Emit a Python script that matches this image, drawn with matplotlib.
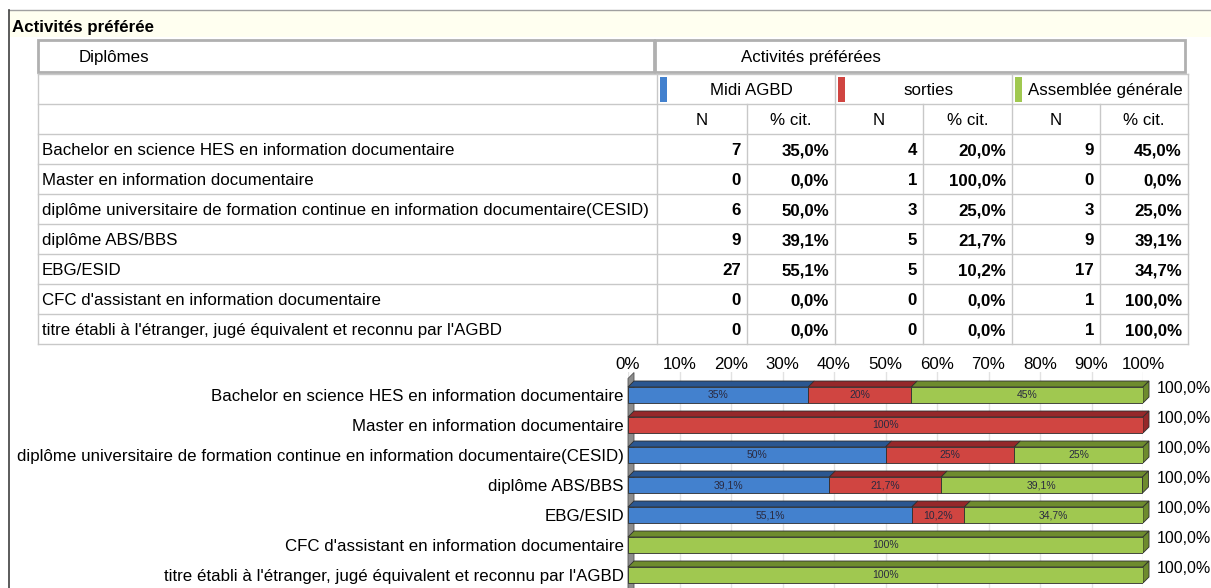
import matplotlib
matplotlib.use("Agg")
import matplotlib.pyplot as plt
from matplotlib.patches import Rectangle, Polygon
import numpy as np

plt.rcParams['font.family'] = ['Liberation Sans', 'DejaVu Sans']

# ---------------- data ----------------
title = "Activités préférée"
row_header = "Diplômes"
col_header = "Activités préférées"
series = ["Midi AGBD", "sorties", "Assemblée générale"]
sub_headers = ["N", "% cit."]
diplomes = [
    "Bachelor en science HES en information documentaire",
    "Master en information documentaire",
    "diplôme universitaire de formation continue en information documentaire(CESID)",
    "diplôme ABS/BBS",
    "EBG/ESID",
    "CFC d'assistant en information documentaire",
    "titre établi à l'étranger, jugé équivalent et reconnu par l'AGBD",
]
n_midi = [7, 0, 6, 9, 27, 0, 0]
n_sorties = [4, 1, 3, 5, 5, 0, 0]
n_ag = [9, 0, 3, 9, 17, 1, 1]
pct_midi = [35.0, 0.0, 50.0, 39.1, 55.1, 0.0, 0.0]
pct_sorties = [20.0, 100.0, 25.0, 21.7, 10.2, 0.0, 0.0]
pct_ag = [45.0, 0.0, 25.0, 39.1, 34.7, 100.0, 100.0]
totals = [100.0] * 7
x_ticks = [0, 10, 20, 30, 40, 50, 60, 70, 80, 90, 100]

front_colors = ["#4381CE", "#D04541", "#A0C850"]
top_colors = ["#2A5690", "#95282A", "#6E8B2E"]

W, H = 1211, 588
fig = plt.figure(figsize=(W / 100, H / 100), dpi=100)
fig.patch.set_facecolor("white")

# ---------------- page / table overlay (pixel coords) ----------------
bg = fig.add_axes([0, 0, 1, 1])
bg.set_xlim(0, W)
bg.set_ylim(H, 0)
bg.axis("off")

FS = 12.2
# title band
bg.add_patch(Rectangle((9, 10), W - 9, 27, facecolor="#FFFFF0", edgecolor="none", zorder=0))
bg.plot([9, W], [10, 10], color="#A0A0A0", lw=1)
bg.plot([9, 9], [10, H], color="#404040", lw=1.2)
bg.text(12, 26, title, fontsize=FS, fontweight="bold", va="center_baseline", ha="left")

# header row 1
bg.add_patch(Rectangle((38, 40), 616, 32, facecolor="white", edgecolor="#B0B0B0", lw=2))
bg.add_patch(Rectangle((655, 40), 530, 32, facecolor="white", edgecolor="#B0B0B0", lw=2))
bg.text(79, 56, row_header, fontsize=FS, va="center_baseline", ha="left")
bg.text(811, 56, col_header, fontsize=FS, va="center_baseline", ha="center")

cols = [38, 657, 747, 835, 923, 1012, 1100, 1188]
row_tops = [74, 104, 134] + [134 + 30 * (i + 1) for i in range(len(diplomes))]
grid_c = "#C8C8C8"
for y in row_tops:
    bg.plot([cols[0], cols[-1]], [y, y], color=grid_c, lw=1)
bg.plot([cols[0], cols[0]], [74, row_tops[-1]], color=grid_c, lw=1)
bg.plot([cols[-1], cols[-1]], [74, row_tops[-1]], color=grid_c, lw=1)
for k in (1, 3, 5):
    bg.plot([cols[k], cols[k]], [74, row_tops[-1]], color=grid_c, lw=1)
for k in (2, 4, 6):
    bg.plot([cols[k], cols[k]], [104, row_tops[-1]], color=grid_c, lw=1)

for s in range(3):
    x0, x1 = cols[1 + 2 * s], cols[3 + 2 * s]
    bg.add_patch(Rectangle((x0 + 3, 77), 7, 25, facecolor=front_colors[s], edgecolor="none"))
    bg.text((x0 + 10 + x1) / 2, 89, series[s], fontsize=FS, va="center_baseline", ha="center")
    for j in range(2):
        a, b = cols[1 + 2 * s + j], cols[2 + 2 * s + j]
        bg.text((a + b) / 2, 119, sub_headers[j], fontsize=FS, va="center_baseline", ha="center")

ns = [n_midi, n_sorties, n_ag]
ps = [pct_midi, pct_sorties, pct_ag]
for i, lab in enumerate(diplomes):
    yc = 134 + 30 * i + 15
    bg.text(42, yc, lab, fontsize=FS, va="center_baseline", ha="left")
    for s in range(3):
        bg.text(cols[2 + 2 * s] - 6, yc, str(ns[s][i]), fontsize=FS, fontweight="bold",
                va="center_baseline", ha="right")
        bg.text(cols[3 + 2 * s] - 6, yc, ("%.1f%%" % ps[s][i]).replace(".", ","),
                fontsize=FS, fontweight="bold", va="center_baseline", ha="right")

# ---------------- 3D-like stacked bar chart ----------------
px_left, px_right = 628, 1143
c0, step = 395, 30
ax_top_px = 372
ax = fig.add_axes([px_left / W, 0, (px_right - px_left) / W, (H - ax_top_px) / H])
ax.set_xlim(0, 100)
ax.set_ylim((H - c0) / step, (ax_top_px - c0) / step)
for sp in ax.spines.values():
    sp.set_visible(False)
ax.patch.set_alpha(0)

ypos = np.arange(len(diplomes))
bar_h = 16 / step
dx = 6 * 100 / (px_right - px_left)
dy = 6 / step

ax.xaxis.tick_top()
ax.set_xticks(x_ticks)
ax.set_xticklabels(["%d%%" % t for t in x_ticks], fontsize=FS)
ax.tick_params(axis="x", length=0, pad=0)
ax.set_yticks(ypos)
ax.set_yticklabels(diplomes, fontsize=FS)
ax.tick_params(axis="y", length=0, pad=3)
ax.grid(axis="x", color="#E2E2E2", lw=1, zorder=0)
ax.set_axisbelow(True)

ylo, yhi = ax.get_ylim()
wall_top = -0.55
wall = Polygon([(0, wall_top), (0, ylo + 1), (dx, ylo + 1 - dy), (dx, wall_top - dy)],
               closed=True, facecolor="#8C8C8C", edgecolor="#555555", lw=0.6,
               zorder=1, clip_on=False)
ax.add_patch(wall)

edge = "#2E2E2E"
for i in ypos:
    left = 0.0
    segs = [pct_midi[i], pct_sorties[i], pct_ag[i]]
    top_y = i - bar_h / 2
    bot_y = i + bar_h / 2
    last = max(k for k in range(3) if segs[k] > 0)
    for s, v in enumerate(segs):
        if v <= 0:
            continue
        right = left + v
        ax.add_patch(Polygon([(left, top_y), (right, top_y), (right + dx, top_y - dy),
                              (left + dx, top_y - dy)], closed=True,
                             facecolor=top_colors[s], edgecolor=edge, lw=0.6,
                             zorder=2, clip_on=False))
        if s == last:
            ax.add_patch(Polygon([(right, top_y), (right, bot_y), (right + dx, bot_y - dy),
                                  (right + dx, top_y - dy)], closed=True,
                                 facecolor=top_colors[s], edgecolor=edge, lw=0.6,
                                 zorder=2, clip_on=False))
        ax.barh(i, v, left=left, height=bar_h, color=front_colors[s], edgecolor=edge,
                lw=0.6, zorder=3)
        lab = ("%d%%" % round(v)) if abs(v - round(v)) < 1e-9 else ("%.1f%%" % v).replace(".", ",")
        ax.text(left + v / 2, i, lab, fontsize=7.5, color="#2A2A40", ha="center",
                va="center", zorder=4)
        left = right
    ax.annotate(("%.1f%%" % totals[i]).replace(".", ","), xy=(100, i),
                xytext=(10, 5), textcoords="offset points", fontsize=11.5,
                ha="left", va="center", annotation_clip=False)

fig.savefig("out.png", dpi=100)
